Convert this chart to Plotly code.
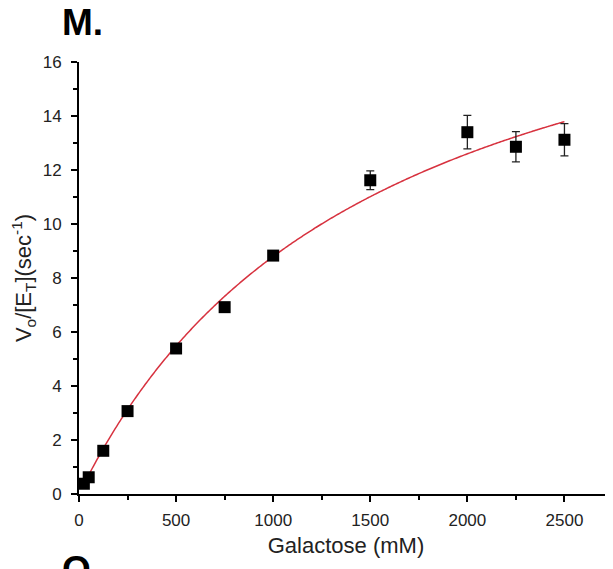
import numpy as np
import plotly.graph_objects as go

# Substrate concentrations (mM) and rates
galactose = [25, 50, 125, 250, 500, 750, 1000, 1500, 2000, 2250, 2500]
rate = [0.38, 0.62, 1.6, 3.07, 5.39, 6.92, 8.83, 11.62, 13.4, 12.86, 13.12]
rate_err = [0.05, 0.05, 0.05, 0.05, 0.05, 0.1, 0.1, 0.35, 0.62, 0.56, 0.6]

# Michaelis-Menten fit parameters
vmax = 22.2
km = 1524.0
fit_start, fit_end = 25, 2500

s_fit = np.linspace(fit_start, fit_end, 400)
v_fit = vmax * s_fit / (km + s_fit)

fig = go.Figure()
fig.add_trace(go.Scatter(
    x=s_fit, y=v_fit, mode="lines",
    line=dict(color="#d7323f", width=1.5, simplify=False),
    showlegend=False, hoverinfo="skip"))
fig.add_trace(go.Scatter(
    x=galactose, y=rate, mode="markers",
    marker=dict(symbol="square", size=12, color="black"),
    error_y=dict(type="data", array=rate_err, visible=True, color="#222222",
                 thickness=1.3, width=4),
    showlegend=False))

FONT = "Liberation Sans, Arial, sans-serif"
axis_font = dict(family=FONT, size=17, color="#222222")
title_font = dict(family=FONT, size=22, color="#222222")

# page has an 8px body margin, so the figure is drawn offset by 8px
OFF = 8
L, R, T, B = 79 - OFF, 0, 62 - OFF, 75
W, H = 613 - OFF, 569 - OFF

fig.update_layout(
    width=W, height=H,
    margin=dict(l=L, r=R, t=T, b=B, autoexpand=False),
    plot_bgcolor="white", paper_bgcolor="white",
    font=dict(family=FONT, color="#222222"),
    xaxis=dict(
        range=[0, 2750], tickvals=[0, 500, 1000, 1500, 2000, 2500],
        showgrid=False, zeroline=False, showline=True, linecolor="black", linewidth=2,
        ticks="outside", ticklen=6, tickwidth=2, tickcolor="black",
        tickfont=axis_font, automargin=False, ticklabelstandoff=4,
        minor=dict(tickvals=[250, 750, 1250, 1750, 2250, 2750], ticks="outside",
                   ticklen=4, tickwidth=2, tickcolor="black"),
        title=dict(text="Galactose (mM)", font=title_font, standoff=8),
    ),
    yaxis=dict(
        range=[0, 16], tickvals=list(range(0, 17, 2)),
        showgrid=False, zeroline=False, showline=True, linecolor="black", linewidth=2,
        ticks="outside", ticklen=6, tickwidth=2, tickcolor="black",
        tickfont=axis_font, automargin=False, ticklabelstandoff=6,
        minor=dict(tickvals=list(range(1, 16, 2)), ticks="outside",
                   ticklen=4, tickwidth=2, tickcolor="black"),
        title=dict(text="V<sub>o</sub>/[E<sub>T</sub>](sec<sup>-1</sup>)",
                   font=title_font, standoff=6),
    ),
)

pw, ph = W - L - R, H - T - B
def px_to_paper(px, py):
    # px, py are page pixel coordinates
    return (px - OFF - L) / pw, (H - B - (py - OFF)) / ph

mx, my = px_to_paper(60, 0)
ox, oy = px_to_paper(60, 547)
fig.add_annotation(text="<b>M.</b>", x=mx, y=my, xref="paper", yref="paper",
                   xanchor="left", yanchor="top", showarrow=False,
                   font=dict(family=FONT, size=37, color="black"))
fig.add_annotation(text="<b>O.</b>", x=ox, y=oy, xref="paper", yref="paper",
                   xanchor="left", yanchor="top", showarrow=False,
                   font=dict(family=FONT, size=37, color="black"))

fig.write_html("out.html")
